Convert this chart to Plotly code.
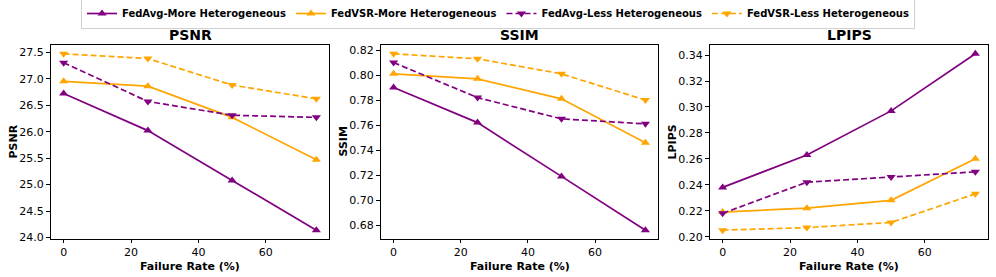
import plotly.graph_objects as go
from plotly.subplots import make_subplots

failure_rate = [0, 25, 50, 75]

psnr_fedavg_more = [26.72, 26.02, 25.08, 24.14]
psnr_fedvsr_more = [26.95, 26.86, 26.27, 25.47]
psnr_fedavg_less = [27.30, 26.57, 26.31, 26.27]
psnr_fedvsr_less = [27.47, 27.38, 26.88, 26.62]

ssim_fedavg_more = [0.790, 0.762, 0.719, 0.676]
ssim_fedvsr_more = [0.801, 0.797, 0.781, 0.746]
ssim_fedavg_less = [0.810, 0.782, 0.765, 0.761]
ssim_fedvsr_less = [0.817, 0.813, 0.801, 0.780]

lpips_fedavg_more = [0.238, 0.263, 0.297, 0.341]
lpips_fedvsr_more = [0.219, 0.222, 0.228, 0.260]
lpips_fedavg_less = [0.218, 0.242, 0.246, 0.250]
lpips_fedvsr_less = [0.205, 0.207, 0.211, 0.233]

metric_names = ["PSNR", "SSIM", "LPIPS"]
x_title = "Failure Rate (%)"
series_names = ["FedAvg-More Heterogeneous", "FedVSR-More Heterogeneous",
                "FedAvg-Less Heterogeneous", "FedVSR-Less Heterogeneous"]
psnr_ticks = [24.0, 24.5, 25.0, 25.5, 26.0, 26.5, 27.0, 27.5]
ssim_ticks = [0.68, 0.70, 0.72, 0.74, 0.76, 0.78, 0.80, 0.82]
lpips_ticks = [0.20, 0.22, 0.24, 0.26, 0.28, 0.30, 0.32, 0.34]
x_ticks = [0, 20, 40, 60]

metrics = [
    (psnr_fedavg_more, psnr_fedvsr_more, psnr_fedavg_less, psnr_fedvsr_less),
    (ssim_fedavg_more, ssim_fedvsr_more, ssim_fedavg_less, ssim_fedvsr_less),
    (lpips_fedavg_more, lpips_fedvsr_more, lpips_fedavg_less, lpips_fedvsr_less),
]
tick_sets = [psnr_ticks, ssim_ticks, lpips_ticks]
tick_formats = [".1f", ".2f", ".2f"]

PURPLE = "#800080"
ORANGE = "#FFA500"
styles = [
    (PURPLE, "solid", "triangle-up"),
    (ORANGE, "solid", "triangle-up"),
    (PURPLE, "6px,3px", "triangle-down"),
    (ORANGE, "6px,3px", "triangle-down"),
]

W, H = 996, 277
ml, mr, mt, mb = 51, 8, 45, 38
pw = W - ml - mr
doms = [(51, 329), (381, 658), (710, 988)]

fig = make_subplots(rows=1, cols=3)
FONT = "DejaVu Sans"

for i, data in enumerate(metrics):
    for j, ys in enumerate(data):
        color, dash, sym = styles[j]
        fig.add_trace(go.Scatter(
            x=failure_rate, y=ys, mode="lines+markers", name=series_names[j],
            line=dict(color=color, width=1.7, dash=dash),
            marker=dict(symbol=sym, size=8, color=color),
            showlegend=(i == 0),
        ), row=1, col=i + 1)

    allv = [v for s in data for v in s]
    lo, hi = min(allv), max(allv)
    pad = (hi - lo) * 0.05
    xa = "xaxis" if i == 0 else f"xaxis{i+1}"
    ya = "yaxis" if i == 0 else f"yaxis{i+1}"
    d0, d1 = doms[i]
    fig.layout[xa].update(
        domain=[(d0 - ml) / pw, (d1 - ml) / pw],
        range=[-3.75, 78.75], tickvals=x_ticks,
        showline=True, linecolor="black", linewidth=1, mirror=True,
        ticks="outside", ticklen=3, tickcolor="black", showgrid=False, zeroline=False,
        tickfont=dict(family=FONT, size=11, color="black"),
    )
    fig.layout[ya].update(
        range=[lo - pad, hi + pad], tickvals=tick_sets[i], tickformat=tick_formats[i],
        showline=True, linecolor="black", linewidth=1, mirror=True,
        ticks="outside", ticklen=4, tickcolor="black", showgrid=False, zeroline=False,
        tickfont=dict(family=FONT, size=11, color="black"),
    )
    # subplot title
    fig.add_annotation(
        x=((d0 + d1) / 2 - ml) / pw, y=1, xref="paper", yref="paper",
        xanchor="center", yanchor="bottom", yshift=0,
        text=f"<b>{metric_names[i]}</b>", showarrow=False,
        font=dict(family=FONT, size=14, color="black"),
    )
    # y-axis title
    fig.add_annotation(
        x=(d0 - ml) / pw, y=0.5, xref="paper", yref="paper",
        xanchor="center", yanchor="middle", xshift=-38.5, textangle=-90,
        text=f"<b>{metric_names[i]}</b>", showarrow=False,
        font=dict(family=FONT, size=11, color="black"),
    )
    # x-axis title
    fig.add_annotation(
        x=((d0 + d1) / 2 - ml) / pw, y=0, xref="paper", yref="paper",
        xanchor="center", yanchor="top", yshift=-19.5, borderpad=0,
        text=f"<b>{x_title}</b>", showarrow=False,
        font=dict(family=FONT, size=11, color="black"),
    )

fig.update_layout(
    width=W, height=H,
    margin=dict(l=ml, r=mr, t=mt, b=mb, autoexpand=False),
    plot_bgcolor="white", paper_bgcolor="white",
    font=dict(family=FONT, color="black"),
    legend=dict(
        orientation="h", xref="container", yref="container",
        x=0.5, xanchor="center", y=1 - 13.5 / H, yanchor="middle",
        font=dict(family=FONT, size=10, color="black", weight="bold"),
        bordercolor="#d0d0d0", borderwidth=1, bgcolor="white",
        itemwidth=30,
    ),
)

fig.write_html("out.html", config={"displayModeBar": False},
               post_script="document.body.style.margin='0';")
